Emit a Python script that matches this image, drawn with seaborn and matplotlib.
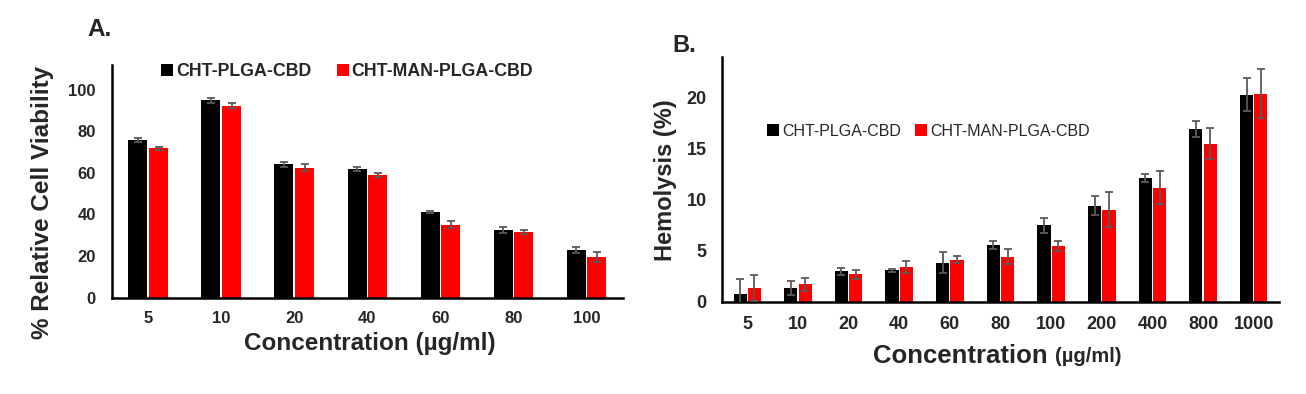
import numpy as np
import pandas as pd
import matplotlib
matplotlib.use("Agg")
import matplotlib.pyplot as plt
import seaborn as sns

# ---------------- data ----------------
series = ["CHT-PLGA-CBD", "CHT-MAN-PLGA-CBD"]
colors = {"CHT-PLGA-CBD": "#000000", "CHT-MAN-PLGA-CBD": "#FF0000"}

conc_a = ["5", "10", "20", "40", "60", "80", "100"]
via_plga = [75.9, 95.0, 64.3, 62.0, 41.2, 32.7, 22.7]
via_man = [71.8, 92.4, 62.5, 59.1, 35.0, 31.5, 19.5]
via_plga_err = [1.1, 1.2, 1.2, 0.9, 0.6, 1.4, 1.5]
via_man_err = [0.7, 1.3, 1.6, 1.1, 1.7, 1.1, 2.2]

conc_b = ["5", "10", "20", "40", "60", "80", "100", "200", "400", "800", "1000"]
hem_plga = [0.75, 1.4, 3.0, 3.1, 3.85, 5.6, 7.5, 9.45, 12.15, 16.95, 20.3]
hem_man = [1.4, 1.72, 2.7, 3.45, 4.15, 4.45, 5.47, 9.05, 11.2, 15.5, 20.4]
hem_plga_err = [1.5, 0.7, 0.35, 0.15, 1.0, 0.42, 0.75, 0.9, 0.42, 0.78, 1.6]
hem_man_err = [1.27, 0.6, 0.45, 0.6, 0.33, 0.72, 0.5, 1.7, 1.6, 1.5, 2.4]

df_a = pd.DataFrame({
    "conc": conc_a * 2,
    "series": [series[0]] * len(conc_a) + [series[1]] * len(conc_a),
    "value": via_plga + via_man,
})
df_b = pd.DataFrame({
    "conc": conc_b * 2,
    "series": [series[0]] * len(conc_b) + [series[1]] * len(conc_b),
    "value": hem_plga + hem_man,
})

# ---------------- style ----------------
sns.set_theme(style="white")
plt.rcParams["font.family"] = ["Liberation Sans", "DejaVu Sans"]
plt.rcParams["axes.linewidth"] = 1.8

W, H = 1306, 394
fig = plt.figure(figsize=(W / 100, H / 100), dpi=100)

def px_axes(l, r, top, bottom):
    return fig.add_axes([l / W, 1 - bottom / H, (r - l) / W, (bottom - top) / H])

axA = px_axes(111.7, 623, 65, 297.5)
axB = px_axes(722, 1279, 57, 302)

def draw(ax, df, order, errs, capsize):
    sns.barplot(data=df, x="conc", y="value", hue="series", order=order,
                hue_order=series, palette=colors, width=0.565, gap=0.08,
                errorbar=None, saturation=1, edgecolor="none", ax=ax)
    for cont, err in zip(ax.containers, errs):
        xs = [b.get_x() + b.get_width() / 2 for b in cont]
        ys = [b.get_height() for b in cont]
        ax.errorbar(xs, ys, yerr=err, fmt="none", ecolor="#5a5a5a",
                    elinewidth=1.3, capsize=capsize, capthick=1.3, zorder=5)
    ax.set_xlim(-0.5, len(order) - 0.5)
    for s in ["top", "right"]:
        ax.spines[s].set_visible(False)
    for s in ["left", "bottom"]:
        ax.spines[s].set_color("black")
    ax.tick_params(length=0)

draw(axA, df_a, conc_a, [via_plga_err, via_man_err], 3.0)
draw(axB, df_b, conc_b, [hem_plga_err, hem_man_err], 2.6)

# ---- panel A ----
axA.set_ylim(0, 112)
axA.set_yticks([0, 20, 40, 60, 80, 100])
axA.tick_params(axis="y", pad=11.5)
axA.tick_params(axis="x", pad=10)
for t in axA.get_yticklabels() + axA.get_xticklabels():
    t.set_fontsize(12)
    t.set_fontweight("bold")
axA.set_ylabel("% Relative Cell Viability", fontsize=17.5, fontweight="bold")
axA.yaxis.set_label_coords(-0.136, 0.409)
axA.yaxis.label.set_va("center")
axA.set_xlabel("Concentration (µg/ml)", fontsize=17.5, fontweight="bold")
axA.xaxis.set_label_coords(0.505, -0.196)
axA.xaxis.label.set_va("center")
axA.legend(loc="center left", bbox_to_anchor=(161 / W, 1 - 72 / H),
           bbox_transform=fig.transFigure, ncol=2, frameon=False,
           prop={"weight": "bold", "size": 12.8}, handlelength=0.68,
           handleheight=0.68, handletextpad=0.15, columnspacing=1.45,
           borderpad=0, borderaxespad=0)
fig.text(100 / W, 1 - 30 / H, "A.", fontsize=17.5, fontweight="bold",
         ha="center", va="center")

# ---- panel B ----
axB.set_ylim(0, 24)
axB.set_yticks([0, 5, 10, 15, 20])
axB.tick_params(axis="y", pad=11)
axB.tick_params(axis="x", pad=10)
for t in axB.get_yticklabels() + axB.get_xticklabels():
    t.set_fontsize(13)
    t.set_fontweight("bold")
axB.set_ylabel("Hemolysis (%)", fontsize=17, fontweight="bold")
axB.yaxis.set_label_coords(-0.101, 0.496)
axB.yaxis.label.set_va("center")
axB.set_xlabel("")
t1 = axB.text((873 - 722) / 557, -0.22, "Concentration", transform=axB.transAxes,
              fontsize=18.5, fontweight="bold", ha="left", va="center")
axB.annotate("(µg/ml)", xy=(1, 0.1), xycoords=t1, xytext=(5, 0),
             textcoords="offset points", fontsize=14.5,
             fontweight="bold", ha="left", va="bottom")
axB.legend(loc="center left", bbox_to_anchor=(767 / W, 1 - 131 / H),
           bbox_transform=fig.transFigure, ncol=2, frameon=False,
           prop={"size": 11.5}, handlelength=0.75, handleheight=0.75,
           handletextpad=0.2, columnspacing=0.9, borderpad=0, borderaxespad=0)
fig.text(684 / W, 1 - 45 / H, "B.", fontsize=17, fontweight="bold",
         ha="center", va="center")

fig.savefig("out.png", dpi=100)
